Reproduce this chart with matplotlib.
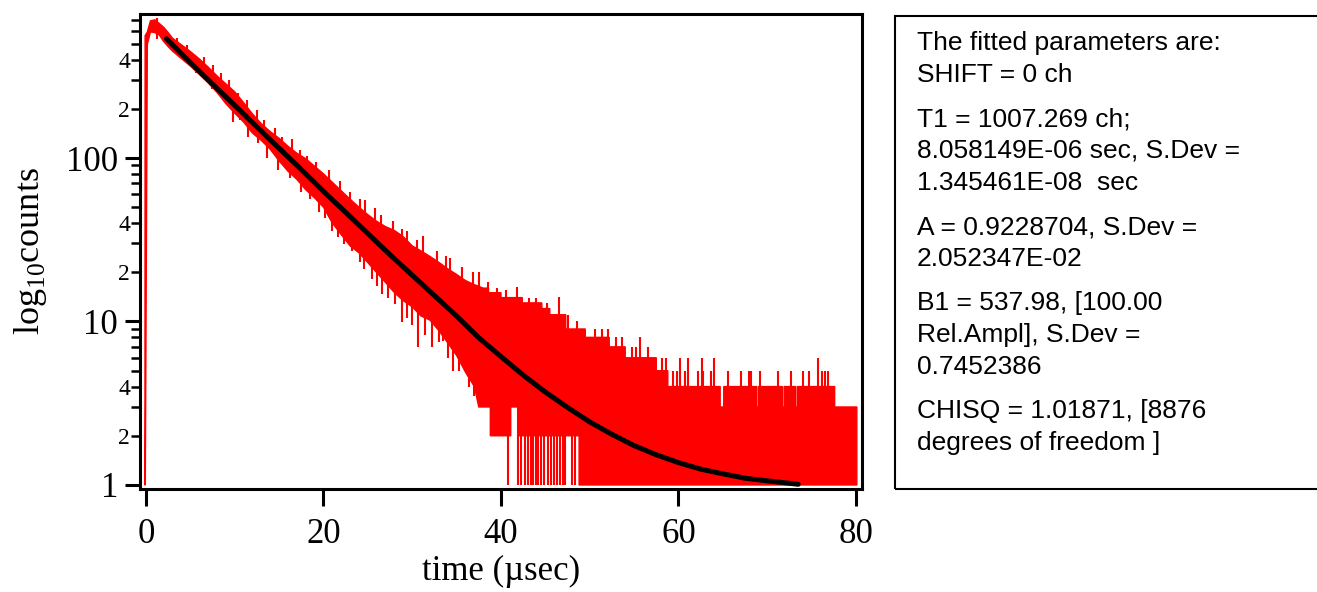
import numpy as np
import matplotlib.pyplot as plt
from matplotlib.patches import Rectangle
from matplotlib.ticker import FixedLocator, FixedFormatter

# ---- data (time in usec, counts) ----
# upper edge of the noisy red decay band
upper_t = [-0.12, -0.10, 0.15, 0.5, 1.0, 1.5, 2.0, 2.5, 3.0, 4.0, 5.0, 6.0, 7.0, 8.0, 9.0,
           10.0, 11.0, 12.0, 13.0, 14.0, 15.0, 16.0, 17.0, 18.0, 19.0, 20.0, 21.0, 22.0,
           23.0, 24.0, 25.0, 26.0, 27.0, 28.0, 29.0, 30.0, 31.0, 32.0, 33.0, 34.0, 35.0,
           36.0, 37.0, 38.0, 38.6, 38.6, 40.0, 40.0, 42.4, 42.4, 44.6, 44.6, 45.5, 45.5,
           47.3, 47.3, 49.5, 49.5, 52.2, 52.2, 54.0, 54.0, 57.5, 57.5, 58.8, 58.8, 64.7,
           64.7, 65.1, 65.1, 68.8, 68.8, 69.0, 69.0, 71.7, 71.7, 71.9, 71.9, 73.2, 73.2,
           73.4, 73.4, 77.6, 77.6, 80.1, 80.1]
upper_counts = [1, 560, 590, 690, 700, 665, 630, 585, 540, 492, 448, 404, 360, 318, 284,
                254, 218, 186, 162, 145, 132, 118, 107, 99, 89, 80, 71, 63,
                56, 50, 45, 41, 38, 36, 33, 29, 27, 25, 23, 21, 19.4,
                17.8, 16.8, 16, 16, 15, 15, 14, 14, 13, 13, 12, 12, 11,
                11, 9, 9, 8, 8, 7, 7, 6, 6, 5, 5, 4, 4,
                3, 3, 4, 4, 3, 3, 4, 4, 3, 3, 4, 4, 3,
                3, 4, 4, 3, 3, 1]

# lower edge of the band
lower_t = [-0.12, -0.08, 0.15, 0.5, 1.0, 1.5, 2.0, 2.5, 3.0, 4.0, 5.0, 6.0, 7.0, 8.0, 9.0,
           10.0, 11.0, 12.0, 13.0, 14.0, 15.0, 16.0, 17.0, 18.0, 19.0, 20.0, 21.0, 22.0,
           23.0, 24.0, 25.0, 26.0, 27.0, 28.0, 29.0, 30.0, 31.0, 32.0, 33.0, 34.0, 35.0,
           36.0, 37.0, 37.5, 38.8, 38.8, 41.1, 41.1, 42.0, 42.0, 48.8, 48.8, 80.1]
lower_counts = [1, 1, 495, 590, 585, 565, 515, 480, 450, 405, 365, 325, 288, 252, 215,
                188, 166, 142, 128, 113, 96, 83, 74, 64, 57, 50, 40, 34,
                29, 26.3, 22.9, 19.9, 17.3, 15, 13.4, 12.3, 10.8, 10.2, 8.8, 7.4, 6.2,
                4.9, 4.0, 3, 3, 2, 2, 3, 3, 2, 2, 1, 1]

# isolated noise spikes sticking out above the band
spike_up_t = [1.2, 3.5, 4.6, 6.5, 7.6, 8.4, 9.3, 10.4, 11.4, 12.5, 13.3, 14.5, 15.3, 16.4,
              17.4, 18.1, 19.2, 20.6, 21.9, 23.0, 24.1, 24.7, 25.8, 26.5, 27.8, 28.8, 29.4,
              30.5, 31.2, 32.8, 33.8, 34.3, 35.6, 36.8, 37.5, 38.5, 39.5, 40.6, 41.8, 43.2,
              44.0, 45.2, 46.5, 47.6, 48.6, 50.6, 51.4, 52.1, 53.0, 53.6, 54.8, 55.2, 55.7,
              56.6, 57.2, 58.2, 58.6, 59.4, 59.8, 60.2, 60.7, 61.1, 62.2, 62.6, 62.8, 63.7,
              64.0, 65.6, 67.0, 67.9, 68.2, 69.2, 71.2, 72.7, 74.0, 74.7, 75.7, 76.2, 76.5,
              76.9]
spike_up_counts = [720, 545, 490, 415, 370, 330, 298, 250, 225, 198, 170, 152, 135, 130,
                   112, 103, 95, 84, 72, 62, 56, 55, 49.4, 45, 41, 37, 35.9,
                   31.5, 33.4, 27, 25, 24.3, 21.5, 20, 20, 17.5, 16, 15.5, 16.2, 14,
                   14, 13, 14.1, 11, 10, 9, 9, 9, 8, 8, 7, 7, 8,
                   7, 6, 6, 6, 5, 5, 6, 5, 6, 5, 6, 5, 5,
                   6, 5, 5, 5, 5, 5, 5, 5, 5, 5, 6, 5, 5,
                   5]

# noise spikes hanging below the band
spike_dn_t = [5.6, 7.4, 9.8, 10.6, 11.5, 12.6, 13.6, 14.9, 16.2, 17.5, 18.5, 19.5, 20.2,
              21.0, 21.6, 22.3, 23.2, 24.1, 24.6, 25.5, 26.0, 26.6, 27.3, 28.1, 28.8, 29.4,
              30.0, 30.7, 31.4, 32.2, 33.0, 33.5, 34.0, 34.6, 35.3, 35.9, 36.4, 37.0,
              40.8, 41.9, 42.3, 42.7, 43.1, 43.4, 43.6, 44.0, 44.2, 44.5, 44.8, 45.3, 45.6,
              46.0, 46.3, 46.7, 47.0, 47.2, 48.0, 48.3]
spike_dn_counts = [330, 265, 165, 170, 135, 124, 100, 85, 75, 62, 56, 47, 43,
                   36, 33, 29.7, 27.1, 23, 21, 18.2, 16.5, 14.8, 14, 12.8, 9.9, 10.5,
                   9.5, 7, 8.3, 7, 7.5, 7.6, 6, 5, 5, 5, 4, 3.5,
                   1, 1, 1, 1, 1, 1, 1, 1, 1, 1, 1, 1, 1,
                   1, 1, 1, 1, 1, 1, 1]

# fitted decay curve (black)
fit_t = [2.3, 5, 7.5, 10, 12.5, 15, 17.5, 20, 22.5, 25, 27.5, 30, 32.5, 35, 37.5, 40,
         42.5, 45, 47.5, 50, 52.5, 55, 57.5, 60, 62.5, 65, 67.5, 70, 73.5]
fit_counts = [537, 383, 283, 210, 155, 114.6, 85, 62.5, 46.5, 34.5, 25.6, 19.2, 14.4,
              10.8, 7.95, 6.1, 4.7, 3.7, 2.98, 2.43, 2.04, 1.74, 1.53, 1.37, 1.25, 1.17,
              1.10, 1.06, 1.01]

# axis ticks
x_ticks = [0, 20, 40, 60, 80]
y_major_ticks = [1, 10, 100]
y_major_labels = ['1', '10', '100']
y_minor_ticks = [2, 3, 4, 5, 6, 7, 8, 9, 20, 30, 40, 50, 60, 70, 80, 90,
                 200, 300, 400, 500, 600, 700]
y_minor_labels = ['2', '', '4', '', '', '', '', '', '2', '', '4', '', '', '', '', '',
                  '2', '', '4', '', '', '']

# fit report shown in the box
report_lines = [
    ['The fitted parameters are:', 'SHIFT = 0 ch'],
    ['T1 = 1007.269 ch;', '8.058149E-06 sec, S.Dev =', '1.345461E-08  sec'],
    ['A = 0.9228704, S.Dev =', '2.052347E-02'],
    ['B1 = 537.98, [100.00', 'Rel.Ampl], S.Dev =', '0.7452386'],
    ['CHISQ = 1.01871, [8876', 'degrees of freedom ]'],
]

plt.rcParams['font.family'] = ['Liberation Serif', 'DejaVu Serif']
plt.rcParams['mathtext.fontset'] = 'custom'
plt.rcParams['mathtext.rm'] = 'Liberation Serif'

W, H = 1317, 592
fig = plt.figure(figsize=(W / 100, H / 100), dpi=100)
ax = fig.add_axes([140 / W, 1 - 489 / H, 722 / W, 475 / H])

# red measured data: band + spikes
band_t = np.r_[upper_t, lower_t[::-1]]
band_c = np.r_[upper_counts, lower_counts[::-1]]
ax.fill(band_t, band_c, color='red', lw=1.0, zorder=2)
base_up = np.interp(spike_up_t, fit_t, fit_counts)
ax.vlines(spike_up_t, base_up, spike_up_counts, color='red', lw=1.5, zorder=2)
base_dn = np.interp(spike_dn_t, fit_t, fit_counts)
ax.vlines(spike_dn_t, spike_dn_counts, base_dn, color='red', lw=1.5, zorder=2)

# black fit
ax.plot(fit_t, fit_counts, color='black', lw=3.6, solid_capstyle='round', zorder=3)

ax.set_yscale('log')
ax.set_xlim(-0.676, 80.68)
ax.set_ylim(0.945, 760)

ax.xaxis.set_major_locator(FixedLocator(x_ticks))
ax.xaxis.set_minor_locator(FixedLocator([]))
ax.yaxis.set_major_locator(FixedLocator(y_major_ticks))
ax.yaxis.set_major_formatter(FixedFormatter(y_major_labels))
ax.yaxis.set_minor_locator(FixedLocator(y_minor_ticks))
ax.yaxis.set_minor_formatter(FixedFormatter(y_minor_labels))

for sp in ax.spines.values():
    sp.set_linewidth(2.2)
ax.tick_params(axis='x', which='major', direction='out', length=12, width=2.2,
               labelsize=25, pad=9)
ax.tick_params(axis='y', which='major', direction='out', length=10.8, width=2.2,
               labelsize=25, pad=5)
ax.tick_params(axis='y', which='minor', direction='out', length=6.2, width=1.8,
               labelsize=17, pad=1)

ax.set_xlabel('time (\u00b5sec)', fontsize=25, labelpad=3)
ax.set_ylabel(r'log$_{\mathrm{10}}$counts', fontsize=26, labelpad=12)

# report box on the right
fig.add_artist(Rectangle((895 / W, 1 - 489.3 / H), (1340 - 895) / W, (489.3 - 15.7) / H,
                         transform=fig.transFigure, fill=False, lw=1.5, ec='black'))
y = 50.0
for i, para in enumerate(report_lines):
    if i > 0:
        y += 44.5
    for j, line in enumerate(para):
        if j > 0:
            y += 31.7
        fig.text(917 / W, 1 - y / H, line, ha='left', va='baseline', fontsize=19,
                 family=['Liberation Sans', 'DejaVu Sans'])

fig.savefig('out.png', dpi=100)
